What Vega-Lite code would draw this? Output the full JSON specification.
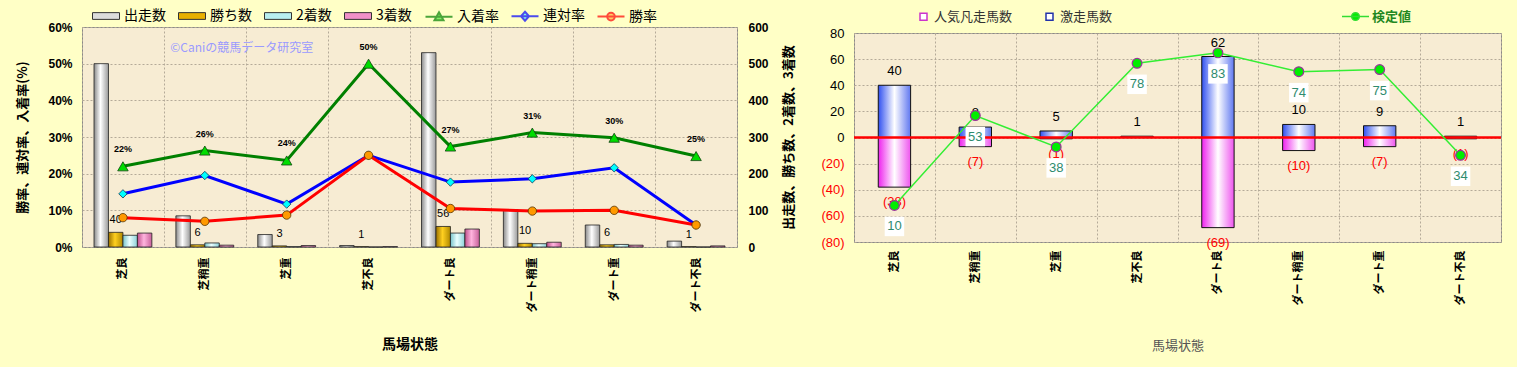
{
  "$schema": "https://vega.github.io/schema/vega-lite/v6.json",
  "background": "#ffffc6",
  "padding": {"left": 16, "top": 8, "right": 14, "bottom": 13},
  "datasets": {
    "bars": [
      {"cat": "芝良", "series": "出走数", "n": 500}, {"cat": "芝良", "series": "勝ち数", "n": 40}, {"cat": "芝良", "series": "2着数", "n": 32}, {"cat": "芝良", "series": "3着数", "n": 38},
      {"cat": "芝稍重", "series": "出走数", "n": 85}, {"cat": "芝稍重", "series": "勝ち数", "n": 6}, {"cat": "芝稍重", "series": "2着数", "n": 11}, {"cat": "芝稍重", "series": "3着数", "n": 5},
      {"cat": "芝重", "series": "出走数", "n": 34}, {"cat": "芝重", "series": "勝ち数", "n": 3}, {"cat": "芝重", "series": "2着数", "n": 1}, {"cat": "芝重", "series": "3着数", "n": 4},
      {"cat": "芝不良", "series": "出走数", "n": 4}, {"cat": "芝不良", "series": "勝ち数", "n": 1}, {"cat": "芝不良", "series": "2着数", "n": 0}, {"cat": "芝不良", "series": "3着数", "n": 1},
      {"cat": "ダート良", "series": "出走数", "n": 530}, {"cat": "ダート良", "series": "勝ち数", "n": 56}, {"cat": "ダート良", "series": "2着数", "n": 38}, {"cat": "ダート良", "series": "3着数", "n": 49},
      {"cat": "ダート稍重", "series": "出走数", "n": 102}, {"cat": "ダート稍重", "series": "勝ち数", "n": 10}, {"cat": "ダート稍重", "series": "2着数", "n": 9}, {"cat": "ダート稍重", "series": "3着数", "n": 13},
      {"cat": "ダート重", "series": "出走数", "n": 60}, {"cat": "ダート重", "series": "勝ち数", "n": 6}, {"cat": "ダート重", "series": "2着数", "n": 7}, {"cat": "ダート重", "series": "3着数", "n": 5},
      {"cat": "ダート不良", "series": "出走数", "n": 16}, {"cat": "ダート不良", "series": "勝ち数", "n": 1}, {"cat": "ダート不良", "series": "2着数", "n": 0}, {"cat": "ダート不良", "series": "3着数", "n": 3}
    ],
    "rates": [
      {"cat": "芝良", "series": "入着率", "rate": 0.22}, {"cat": "芝稍重", "series": "入着率", "rate": 0.263}, {"cat": "芝重", "series": "入着率", "rate": 0.236}, {"cat": "芝不良", "series": "入着率", "rate": 0.5},
      {"cat": "ダート良", "series": "入着率", "rate": 0.274}, {"cat": "ダート稍重", "series": "入着率", "rate": 0.312}, {"cat": "ダート重", "series": "入着率", "rate": 0.298}, {"cat": "ダート不良", "series": "入着率", "rate": 0.248},
      {"cat": "芝良", "series": "連対率", "rate": 0.145}, {"cat": "芝稍重", "series": "連対率", "rate": 0.195}, {"cat": "芝重", "series": "連対率", "rate": 0.117}, {"cat": "芝不良", "series": "連対率", "rate": 0.25},
      {"cat": "ダート良", "series": "連対率", "rate": 0.177}, {"cat": "ダート稍重", "series": "連対率", "rate": 0.186}, {"cat": "ダート重", "series": "連対率", "rate": 0.216}, {"cat": "ダート不良", "series": "連対率", "rate": 0.06},
      {"cat": "芝良", "series": "勝率", "rate": 0.08}, {"cat": "芝稍重", "series": "勝率", "rate": 0.07}, {"cat": "芝重", "series": "勝率", "rate": 0.087}, {"cat": "芝不良", "series": "勝率", "rate": 0.25},
      {"cat": "ダート良", "series": "勝率", "rate": 0.105}, {"cat": "ダート稍重", "series": "勝率", "rate": 0.098}, {"cat": "ダート重", "series": "勝率", "rate": 0.1}, {"cat": "ダート不良", "series": "勝率", "rate": 0.06}
    ],
    "right": [
      {"cat": "芝良", "gekiso": 40, "bonso": -38, "kentei": 10},
      {"cat": "芝稍重", "gekiso": 8, "bonso": -7, "kentei": 53},
      {"cat": "芝重", "gekiso": 5, "bonso": -1, "kentei": 38},
      {"cat": "芝不良", "gekiso": 1, "bonso": 0, "kentei": 78},
      {"cat": "ダート良", "gekiso": 62, "bonso": -69, "kentei": 83},
      {"cat": "ダート稍重", "gekiso": 10, "bonso": -10, "kentei": 74},
      {"cat": "ダート重", "gekiso": 9, "bonso": -7, "kentei": 75},
      {"cat": "ダート不良", "gekiso": 1, "bonso": -1, "kentei": 34}
    ]
  },
  "spacing": 24,
  "resolve": {
    "scale": {"x": "independent", "y": "independent", "fill": "independent", "stroke": "independent", "color": "independent", "shape": "independent", "xOffset": "independent"},
    "legend": {"fill": "independent", "stroke": "independent", "color": "independent", "shape": "independent"}
  },
  "hconcat": [
    {
      "width": 655,
      "height": 220,
      "encoding": {
        "x": {
          "field": "cat", "type": "nominal", "sort": null,
          "scale": {"domain": ["芝良", "芝稍重", "芝重", "芝不良", "ダート良", "ダート稍重", "ダート重", "ダート不良"], "paddingInner": 0, "paddingOuter": 0},
          "axis": {"title": "馬場状態", "labelAngle": 270, "tickBand": "extent", "grid": true, "gridDash": [2, 2], "gridColor": "#b4aa98", "ticks": false, "domain": false,
                   "labelFont": "Noto Sans CJK JP", "labelFontWeight": "bold", "labelFontSize": 11, "labelColor": "#000", "labelPadding": 10,
                   "titleFont": "Noto Sans CJK JP", "titleFontWeight": "bold", "titleFontSize": 14, "titleColor": "#000", "titlePadding": 26}
        }
      },
      "layer": [
        {
          "encoding": {
            "y": {"field": "n", "type": "quantitative", "scale": {"domain": [0, 600], "nice": false},
                  "axis": {"orient": "right", "values": [0, 100, 200, 300, 400, 500, 600], "grid": false, "ticks": false, "domain": false,
                           "labelFont": "Liberation Sans", "labelFontWeight": "bold", "labelFontSize": 12, "labelColor": "#000", "labelPadding": 11,
                           "title": "出走数、勝ち数、2着数、3着数", "titleAngle": 270, "titleBaseline": "top", "titleFont": "Noto Sans CJK JP", "titleFontWeight": "bold", "titleFontSize": 13, "titleColor": "#000", "titlePadding": 14}},
            "xOffset": {"field": "series", "scale": {"domain": ["出走数", "勝ち数", "2着数", "3着数"], "paddingInner": 0, "paddingOuter": 0.83}}
          },
          "layer": [
            {
              "data": {"name": "bars"}, "transform": [{"filter": "datum.series === '出走数'"}],
              "mark": {"type": "bar", "stroke": "#222", "strokeWidth": 0.8, "fill": {"gradient": "linear", "x1": 0, "x2": 1, "y1": 0, "y2": 0, "stops": [{"offset": 0, "color": "#8a8a8a"}, {"offset": 0.45, "color": "#ffffff"}, {"offset": 1, "color": "#9a9a9a"}]}}
            },
            {
              "data": {"name": "bars"}, "transform": [{"filter": "datum.series === '勝ち数'"}],
              "mark": {"type": "bar", "stroke": "#222", "strokeWidth": 0.8, "fill": {"gradient": "linear", "x1": 0, "x2": 1, "y1": 0, "y2": 0, "stops": [{"offset": 0, "color": "#9a7000"}, {"offset": 0.45, "color": "#ffd020"}, {"offset": 1, "color": "#b08800"}]}}
            },
            {
              "data": {"name": "bars"}, "transform": [{"filter": "datum.series === '2着数'"}],
              "mark": {"type": "bar", "stroke": "#222", "strokeWidth": 0.8, "fill": {"gradient": "linear", "x1": 0, "x2": 1, "y1": 0, "y2": 0, "stops": [{"offset": 0, "color": "#78c4cc"}, {"offset": 0.45, "color": "#eaffff"}, {"offset": 1, "color": "#8cd0d8"}]}}
            },
            {
              "data": {"name": "bars"}, "transform": [{"filter": "datum.series === '3着数'"}],
              "mark": {"type": "bar", "stroke": "#222", "strokeWidth": 0.8, "fill": {"gradient": "linear", "x1": 0, "x2": 1, "y1": 0, "y2": 0, "stops": [{"offset": 0, "color": "#c0508c"}, {"offset": 0.45, "color": "#ffb4de"}, {"offset": 1, "color": "#c8609a"}]}}
            },
            {
              "data": {"name": "bars"}, "transform": [{"filter": "datum.series === '勝ち数'"}],
              "mark": {"type": "text", "dy": -12, "font": "Liberation Sans", "fontSize": 11, "color": "#000"},
              "encoding": {"text": {"field": "n", "type": "quantitative"}}
            },
            {
              "data": {"name": "bars"}, "transform": [{"filter": "false"}],
              "mark": {"type": "point", "filled": true, "stroke": "#333", "strokeWidth": 1},
              "encoding": {
                "fill": {"field": "series", "type": "nominal",
                         "scale": {"domain": ["出走数", "勝ち数", "2着数", "3着数"], "range": ["#dcdcdc", "#e8b000", "#b8eef0", "#f090c8"]},
                         "legend": {"orient": "none", "legendX": 17, "legendY": -18, "direction": "horizontal", "columns": 4, "title": null,
                                    "symbolType": "M-3,-0.75H3V0.75H-3Z", "symbolSize": 81, "symbolStrokeColor": "#333", "symbolStrokeWidth": 1, "symbolOpacity": 1,
                                    "labelOffset": 11, "columnPadding": 10, "labelFont": "Noto Sans CJK JP", "labelFontSize": 14, "labelColor": "#000"}}
              }
            }
          ]
        },
        {
          "encoding": {
            "y": {"field": "rate", "type": "quantitative", "scale": {"domain": [0, 0.6], "nice": false},
                  "axis": {"orient": "left", "values": [0, 0.1, 0.2, 0.3, 0.4, 0.5, 0.6], "format": ".0%", "grid": true, "gridDash": [2, 2], "gridColor": "#b4aa98", "ticks": false, "domain": false,
                           "labelFont": "Liberation Sans", "labelFontWeight": "bold", "labelFontSize": 12, "labelColor": "#000", "labelPadding": 10,
                           "title": "勝率、連対率、入着率(%)", "titleFont": "Noto Sans CJK JP", "titleFontWeight": "bold", "titleFontSize": 13, "titleColor": "#000", "titlePadding": 18}}
          },
          "layer": [
            {
              "data": {"name": "rates"},
              "mark": {"type": "line", "strokeWidth": 3},
              "encoding": {
                "stroke": {"field": "series", "type": "nominal", "scale": {"domain": ["入着率", "連対率", "勝率"], "range": ["#008000", "#0000ff", "#ff0000"]},
                           "legend": {"orient": "none", "legendX": 350, "legendY": -18, "direction": "horizontal", "columns": 3, "title": null,
                                      "symbolSize": 81, "symbolStrokeWidth": 2, "symbolOpacity": 1,
                                      "labelOffset": 11, "columnPadding": 8, "labelFont": "Noto Sans CJK JP", "labelFontSize": 14, "labelColor": "#000"}}
              }
            },
            {
              "data": {"name": "rates"}, "transform": [{"filter": "datum.series === '入着率'"}],
              "mark": {"type": "point", "shape": "triangle-up", "filled": true, "fill": "#00dd00", "stroke": "#114411", "strokeWidth": 0.8, "size": 110, "opacity": 1}
            },
            {
              "data": {"name": "rates"}, "transform": [{"filter": "datum.series === '連対率'"}],
              "mark": {"type": "point", "shape": "diamond", "filled": true, "fill": "#00ffff", "stroke": "#113355", "strokeWidth": 0.8, "size": 70, "opacity": 1}
            },
            {
              "data": {"name": "rates"}, "transform": [{"filter": "datum.series === '勝率'"}],
              "mark": {"type": "point", "shape": "circle", "filled": true, "fill": "#ff9900", "stroke": "#553300", "strokeWidth": 0.8, "size": 70, "opacity": 1}
            },
            {
              "data": {"name": "rates"}, "transform": [{"filter": "datum.series === '入着率'"}],
              "mark": {"type": "text", "dy": -17, "font": "Liberation Sans", "fontWeight": "bold", "fontSize": 9, "color": "#000"},
              "encoding": {"text": {"field": "rate", "type": "quantitative", "format": ".0%"}}
            },
            {
              "data": {"values": [{"t": "©Caniの競馬データ研究室", "rate": 0.543, "cat": "芝稍重"}]},
              "mark": {"type": "text", "dx": 37, "font": "Noto Sans CJK JP", "fontSize": 12, "color": "#9a9aff"},
              "encoding": {"text": {"field": "t"}}
            },
            {
              "data": {"name": "rates"}, "transform": [{"filter": "false"}],
              "mark": {"type": "point", "filled": true, "strokeWidth": 2},
              "encoding": {
                "stroke": {"field": "series", "type": "nominal", "scale": {"domain": ["入着率", "連対率", "勝率"], "range": ["#008000", "#0000ff", "#ff0000"]}},
                "color": {"field": "series", "type": "nominal", "scale": {"domain": ["入着率", "連対率", "勝率"], "range": ["#00dd00", "#00ffff", "#ff9900"]},
                          "legend": {"orient": "none", "legendX": 350, "legendY": -18, "direction": "horizontal", "columns": 3, "title": null,
                                      "symbolSize": 81, "symbolStrokeWidth": 2, "symbolOpacity": 1,
                                      "labelOffset": 11, "columnPadding": 8, "labelFont": "Noto Sans CJK JP", "labelFontSize": 14, "labelColor": "#000"}},
                "shape": {"field": "series", "type": "nominal", "scale": {"domain": ["入着率", "連対率", "勝率"],
                          "range": ["M-3,0H3M0,-1L1,0.75H-1Z", "M-3,0H3M0,-1L0.9,0L0,1L-0.9,0Z", "M-3,0H3M0.85,0A0.85,0.85 0 1,1 -0.85,0A0.85,0.85 0 1,1 0.85,0Z"]},
                          "legend": {"orient": "none", "legendX": 350, "legendY": -18, "direction": "horizontal", "columns": 3, "title": null,
                                      "symbolSize": 81, "symbolStrokeWidth": 2, "symbolOpacity": 1,
                                      "labelOffset": 11, "columnPadding": 8, "labelFont": "Noto Sans CJK JP", "labelFontSize": 14, "labelColor": "#000"}}
              }
            }
          ]
        }
      ],
      "resolve": {"scale": {"y": "independent"}}
    },
    {
      "spacing": 0,
      "bounds": "flush",
      "vconcat": [
        {
          "width": 647,
          "height": 6,
          "view": {"stroke": null, "fill": null},
          "data": {"values": [{"s": ""}]},
          "mark": {"type": "text"},
          "encoding": {"text": {"field": "s"}}
        },
        {
          "width": 647,
          "height": 209,
          "encoding": {
            "x": {
              "field": "cat", "type": "nominal", "sort": null,
              "scale": {"domain": ["芝良", "芝稍重", "芝重", "芝不良", "ダート良", "ダート稍重", "ダート重", "ダート不良"], "paddingInner": 0, "paddingOuter": 0},
              "axis": {"title": "馬場状態", "labelAngle": 270, "tickBand": "extent", "grid": true, "gridDash": [2, 2], "gridColor": "#b4aa98", "ticks": false, "domain": false,
                       "labelFont": "Noto Sans CJK JP", "labelFontWeight": "bold", "labelFontSize": 11, "labelColor": "#000", "labelPadding": 8,
                       "titleFont": "Noto Sans CJK JP", "titleFontWeight": "normal", "titleFontSize": 13, "titleColor": "#555", "titlePadding": 35}
            }
          },
          "layer": [
            {
              "layer": [
                {
                  "data": {"name": "right"},
                  "mark": {"type": "bar", "width": {"band": 0.4}, "stroke": "#111", "strokeWidth": 1, "fill": {"gradient": "linear", "x1": 0, "x2": 1, "y1": 0, "y2": 0, "stops": [{"offset": 0, "color": "#3050f0"}, {"offset": 0.5, "color": "#ffffff"}, {"offset": 1, "color": "#6078f0"}]}},
                  "encoding": {
                    "y": {"field": "gekiso", "type": "quantitative", "scale": {"domain": [-80, 80], "nice": false},
                          "axis": {"values": [-80, -60, -40, -20, 0, 20, 40, 60, 80], "format": "(d", "grid": true, "gridDash": [2, 2], "gridColor": "#b4aa98", "ticks": false, "domain": false, "title": null,
                                   "labelFont": "Liberation Sans", "labelFontSize": 13, "labelPadding": 10,
                                   "labelColor": {"condition": {"test": "datum.value < 0", "value": "#ff0000"}, "value": "#000000"}}}
                  }
                },
                {
                  "data": {"name": "right"},
                  "mark": {"type": "bar", "width": {"band": 0.4}, "stroke": "#111", "strokeWidth": 1, "fill": {"gradient": "linear", "x1": 0, "x2": 1, "y1": 0, "y2": 0, "stops": [{"offset": 0, "color": "#ee22ee"}, {"offset": 0.5, "color": "#ffffff"}, {"offset": 1, "color": "#ee55ee"}]}},
                  "encoding": {
                    "y": {"field": "bonso", "type": "quantitative", "scale": {"domain": [-80, 80], "nice": false},
                          "axis": {"values": [-80, -60, -40, -20, 0, 20, 40, 60, 80], "format": "(d", "grid": true, "gridDash": [2, 2], "gridColor": "#b4aa98", "ticks": false, "domain": false, "title": null,
                                   "labelFont": "Liberation Sans", "labelFontSize": 13, "labelPadding": 10,
                                   "labelColor": {"condition": {"test": "datum.value < 0", "value": "#ff0000"}, "value": "#000000"}}}
                  }
                },
                {
                  "data": {"values": [{"z": 0}]},
                  "mark": {"type": "rule", "color": "#ff0000", "strokeWidth": 2.5},
                  "encoding": {
                    "x": null,
                    "y": {"field": "z", "type": "quantitative", "scale": {"domain": [-80, 80], "nice": false},
                          "axis": {"values": [-80, -60, -40, -20, 0, 20, 40, 60, 80], "format": "(d", "grid": true, "gridDash": [2, 2], "gridColor": "#b4aa98", "ticks": false, "domain": false, "title": null,
                                   "labelFont": "Liberation Sans", "labelFontSize": 13, "labelPadding": 10,
                                   "labelColor": {"condition": {"test": "datum.value < 0", "value": "#ff0000"}, "value": "#000000"}}}
                  }
                },
                {
                  "data": {"name": "right"},
                  "mark": {"type": "text", "dy": -14, "font": "Liberation Sans", "fontSize": 13, "color": "#000"},
                  "encoding": {
                    "y": {"field": "gekiso", "type": "quantitative", "scale": {"domain": [-80, 80], "nice": false},
                          "axis": {"values": [-80, -60, -40, -20, 0, 20, 40, 60, 80], "format": "(d", "grid": true, "gridDash": [2, 2], "gridColor": "#b4aa98", "ticks": false, "domain": false, "title": null,
                                   "labelFont": "Liberation Sans", "labelFontSize": 13, "labelPadding": 10,
                                   "labelColor": {"condition": {"test": "datum.value < 0", "value": "#ff0000"}, "value": "#000000"}}},
                    "text": {"field": "gekiso", "type": "quantitative"}
                  }
                },
                {
                  "data": {"name": "right"}, "transform": [{"filter": "datum.bonso !== 0"}],
                  "mark": {"type": "text", "dy": 15, "font": "Liberation Sans", "fontSize": 13, "color": "#ff0000"},
                  "encoding": {
                    "y": {"field": "bonso", "type": "quantitative", "scale": {"domain": [-80, 80], "nice": false},
                          "axis": {"values": [-80, -60, -40, -20, 0, 20, 40, 60, 80], "format": "(d", "grid": true, "gridDash": [2, 2], "gridColor": "#b4aa98", "ticks": false, "domain": false, "title": null,
                                   "labelFont": "Liberation Sans", "labelFontSize": 13, "labelPadding": 10,
                                   "labelColor": {"condition": {"test": "datum.value < 0", "value": "#ff0000"}, "value": "#000000"}}},
                    "text": {"field": "bonso", "type": "quantitative", "format": "(d"}
                  }
                },
                {
                  "data": {"name": "right"}, "transform": [{"filter": "false"}],
                  "mark": {"type": "point", "shape": "square", "filled": false, "fill": "#ffffff", "strokeWidth": 1.5},
                  "encoding": {
                    "color": {"field": "s", "type": "nominal", "scale": {"domain": ["人気凡走馬数", "激走馬数"], "range": ["#cc33cc", "#2233aa"]},
                               "legend": {"orient": "none", "legendX": 63, "legendY": -17, "direction": "horizontal", "columns": 2, "title": null,
                                          "symbolType": "square", "symbolSize": 49, "symbolFillColor": "#ffffff", "symbolStrokeWidth": 1.5, "symbolOpacity": 1,
                                          "labelOffset": 4, "columnPadding": 30, "labelFont": "Noto Sans CJK JP", "labelFontSize": 13, "labelColor": "#333"}}
                  }
                }
              ]
            },
            {
              "encoding": {"y": {"field": "kentei", "type": "quantitative", "scale": {"domain": [-7.5, 92.5], "nice": false}, "axis": null}},
              "layer": [
                {
                  "data": {"name": "right"},
                  "mark": {"type": "point", "shape": "square", "filled": true, "fill": "#ffffff", "strokeWidth": 0, "size": 380, "yOffset": 21, "opacity": 1}
                },
                {
                  "data": {"name": "right"},
                  "mark": {"type": "text", "dy": 21, "font": "Liberation Sans", "fontSize": 13, "color": "#2e8b6e"},
                  "encoding": {"text": {"field": "kentei", "type": "quantitative"}}
                },
                {
                  "data": {"name": "right"},
                  "mark": {"type": "line", "color": "#33ee33", "strokeWidth": 1.5}
                },
                {
                  "data": {"name": "right"},
                  "mark": {"type": "point", "shape": "circle", "filled": true, "fill": "#00ee00", "stroke": "#993399", "strokeWidth": 1.2, "size": 95, "opacity": 1}
                },
                {
                  "data": {"name": "right"}, "transform": [{"filter": "false"}],
                  "mark": {"type": "point", "filled": true, "fill": "#00ee00", "strokeWidth": 1.5},
                  "encoding": {
                    "stroke": {"field": "s", "type": "nominal", "scale": {"domain": ["検定値"], "range": ["#33dd33"]}},
                    "shape": {"field": "s", "type": "nominal", "scale": {"domain": ["検定値"], "range": ["M-3,0H3M0.85,0A0.85,0.85 0 1,1 -0.85,0A0.85,0.85 0 1,1 0.85,0Z"]},
                              "legend": {"orient": "none", "legendX": 495, "legendY": -17, "title": null,
                                         "symbolSize": 81, "symbolFillColor": "#00ee00", "symbolStrokeWidth": 1.5, "symbolOpacity": 1,
                                         "labelOffset": 10, "labelFont": "Noto Sans CJK JP", "labelFontSize": 13, "labelFontWeight": "bold", "labelColor": "#228822"}}
                  }
                }
              ]
            }
          ],
          "resolve": {"scale": {"y": "independent"}}
        }
      ]
    }
  ],
  "config": {
    "view": {"fill": "#f7ecd3", "stroke": "#8a8a8a", "strokeWidth": 1},
    "font": "Noto Sans CJK JP"
  }
}
